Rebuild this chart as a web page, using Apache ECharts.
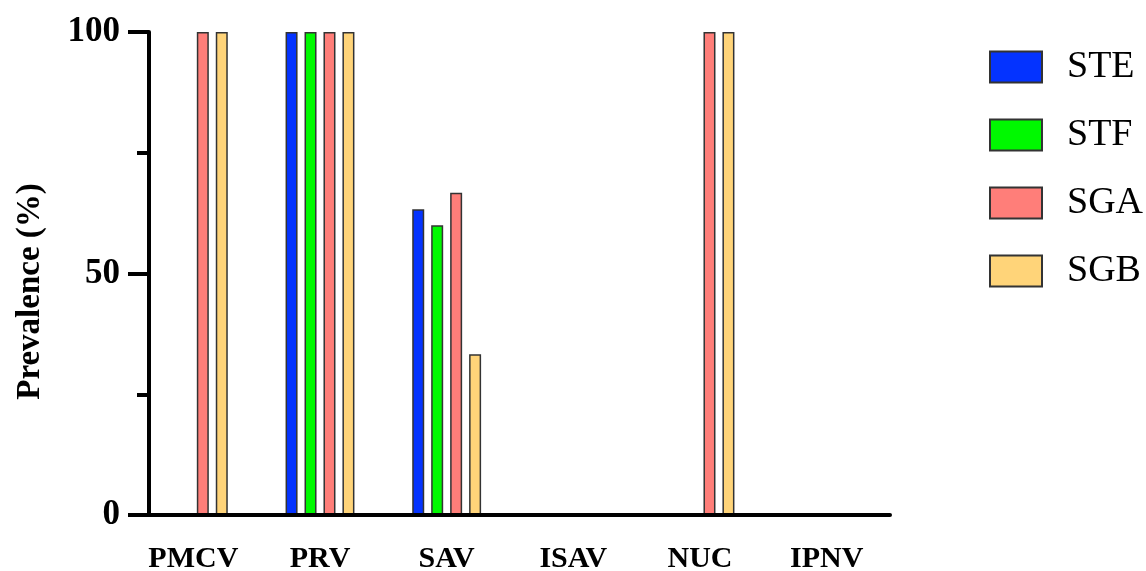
<!DOCTYPE html>
<html>
<head>
<meta charset="utf-8">
<script src="https://cdn.jsdelivr.net/npm/echarts@6/dist/echarts.min.js"></script>
<style>
  html, body { margin: 0; padding: 0; background: #fff; }
  #chart { width: 1146px; height: 571px; }
</style>
</head>
<body>
<div id="chart"></div>
<script>
var categories = ['PMCV', 'PRV', 'SAV', 'ISAV', 'NUC', 'IPNV'];
var seriesNames = ['STE', 'STF', 'SGA', 'SGB'];
var steValues = [0, 100, 63.3, 0, 0, 0];
var stfValues = [0, 100, 60, 0, 0, 0];
var sgaValues = [100, 100, 66.7, 0, 100, 0];
var sgbValues = [100, 100, 33.3, 0, 100, 0];
var yTicks = [0, 50, 100];

var fontFam = '"Liberation Serif", "Times New Roman", serif';
var colors = ['#0433FF', '#00F900', '#FF7E79', '#FFD479'];
var values = [steValues, stfValues, sgaValues, sgbValues];

var chart = echarts.init(document.getElementById('chart'));

var series = seriesNames.map(function (name, i) {
    return {
        name: name,
        type: 'bar',
        data: values[i],
        barWidth: 12,
        barGap: '58%',
        itemStyle: {
            color: colors[i],
            borderColor: '#333',
            borderWidth: 1.5
        }
    };
});

var option = {
    animation: false,
    backgroundColor: '#fff',
    color: colors,
    grid: {
        left: 130,
        right: 256,
        top: 32,
        bottom: 56,
        containLabel: false,
        outerBoundsMode: 'none'
    },
    legend: {
        orient: 'vertical',
        left: 984,
        top: 43,
        itemWidth: 52,
        itemHeight: 31,
        itemGap: 30,
        icon: 'rect',
        data: seriesNames,
        textStyle: {
            fontFamily: fontFam,
            fontSize: 38,
            color: '#000',
            padding: [0, 0, 0, 20]
        }
    },
    xAxis: {
        type: 'category',
        data: categories,
        z: 5,
        axisLine: { lineStyle: { color: '#000', width: 4 } },
        axisTick: { alignWithLabel: true, length: 18, lineStyle: { color: '#000', width: 4 } },
        axisLabel: {
            margin: 29,
            color: '#000',
            fontFamily: fontFam,
            fontWeight: 'bold',
            fontSize: 30
        }
    },
    yAxis: {
        type: 'value',
        min: yTicks[0],
        max: yTicks[yTicks.length - 1],
        interval: 50,
        offset: -19,
        z: 5,
        name: 'Prevalence (%)',
        nameLocation: 'middle',
        nameGap: 102,
        nameTextStyle: {
            fontFamily: fontFam,
            fontWeight: 'bold',
            fontSize: 33,
            color: '#000',
            padding: [0, 36, 0, 0]
        },
        splitLine: { show: false },
        axisLine: { show: true, lineStyle: { color: '#000', width: 4 } },
        axisTick: { show: true, length: 21, lineStyle: { color: '#000', width: 4 } },
        minorTick: { show: true, splitNumber: 2, length: 12, lineStyle: { color: '#000', width: 4 } },
        axisLabel: {
            margin: 29,
            color: '#000',
            fontFamily: fontFam,
            fontWeight: 'bold',
            fontSize: 35
        }
    },
    series: series
};

chart.setOption(option);
</script>
</body>
</html>
